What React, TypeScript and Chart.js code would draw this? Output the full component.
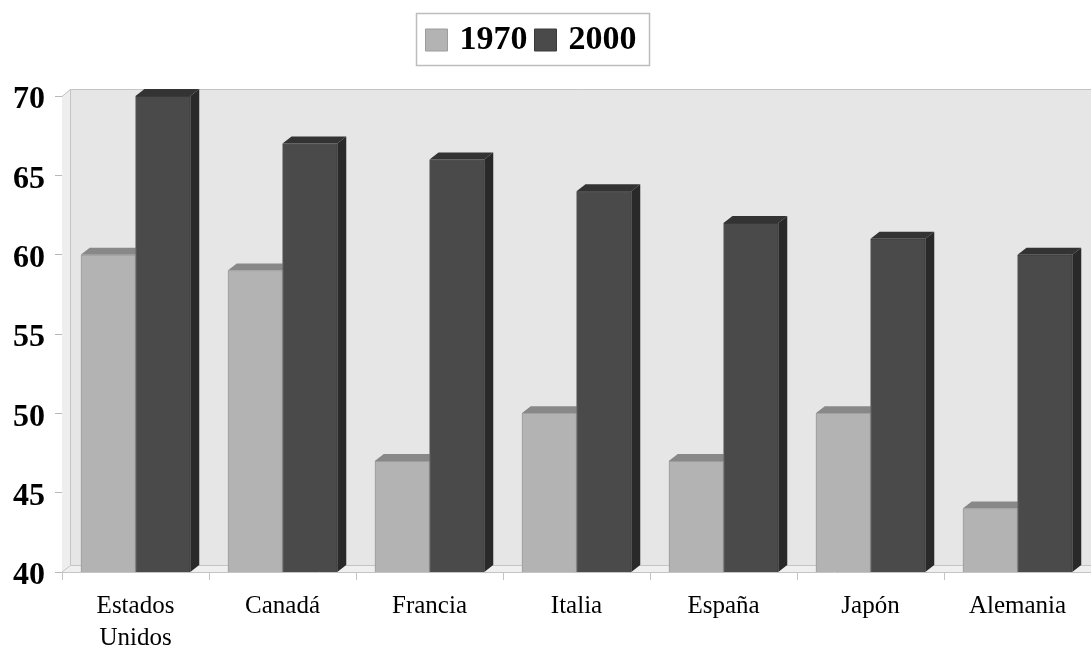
import React, { useEffect, useRef } from 'react';
import { Chart, registerables } from 'chart.js';

Chart.register(...registerables);

const categories: (string | string[])[] = [['Estados', 'Unidos'], 'Canadá', 'Francia', 'Italia', 'España', 'Japón', 'Alemania'];
const seriesNames = ['1970', '2000'];
const values1970 = [60, 59, 47, 50, 47, 50, 44];
const values2000 = [70, 67, 66, 64, 62, 61, 60];
const yMin = 40;
const yMax = 70;
const yStep = 5;

const SERIF = "'Liberation Serif', 'Times New Roman', serif";
const DX = 9;
const DY = 7;
const WALL_DX = 8;
const WALL_DY = 7;

const faces = [
  { front: '#b3b3b3', top: '#888888', side: '#8e8e8e', edge: '#9c9c9c' },
  { front: '#4a4a4a', top: '#333333', side: '#292929', edge: '#3a3a3a' },
];

const backdropPlugin = {
  id: 'backdrop3d',
  beforeDatasetsDraw(chart: any) {
    const { ctx, chartArea } = chart;
    const { left, top, right, bottom } = chartArea;
    ctx.save();
    ctx.fillStyle = '#e6e6e6';
    ctx.fillRect(left + WALL_DX, top - WALL_DY, right - left - WALL_DX, bottom - top);
    ctx.fillStyle = '#eeeeee';
    ctx.beginPath();
    ctx.moveTo(left, top);
    ctx.lineTo(left + WALL_DX, top - WALL_DY);
    ctx.lineTo(left + WALL_DX, bottom - WALL_DY);
    ctx.lineTo(left, bottom);
    ctx.closePath();
    ctx.fill();
    ctx.fillStyle = '#efefef';
    ctx.beginPath();
    ctx.moveTo(left, bottom);
    ctx.lineTo(left + WALL_DX, bottom - WALL_DY);
    ctx.lineTo(right, bottom - WALL_DY);
    ctx.lineTo(right, bottom);
    ctx.closePath();
    ctx.fill();
    ctx.strokeStyle = '#c4c4c4';
    ctx.lineWidth = 1;
    ctx.beginPath();
    ctx.moveTo(left, top + 0.5);
    ctx.lineTo(left + WALL_DX + 0.5, top - WALL_DY + 0.5);
    ctx.lineTo(right, top - WALL_DY + 0.5);
    ctx.moveTo(left + WALL_DX + 0.5, top - WALL_DY);
    ctx.lineTo(left + WALL_DX + 0.5, bottom - WALL_DY + 0.5);
    ctx.lineTo(right, bottom - WALL_DY + 0.5);
    ctx.moveTo(left, bottom);
    ctx.lineTo(left + WALL_DX + 0.5, bottom - WALL_DY + 0.5);
    ctx.stroke();
    ctx.restore();
  },
};

const bars3dPlugin = {
  id: 'bars3d',
  afterDatasetsDraw(chart: any) {
    const { ctx, chartArea } = chart;
    const metas = chart.data.datasets.map((_: any, d: number) => chart.getDatasetMeta(d));
    const n = chart.data.labels.length;
    ctx.save();
    ctx.beginPath();
    ctx.rect(chartArea.left, chartArea.top - DY - 4, chartArea.right - chartArea.left + DX + 4, chartArea.bottom - chartArea.top + DY + 4);
    ctx.clip();
    for (let i = 0; i < n; i++) {
      metas.forEach((meta: any, d: number) => {
        const el = meta.data[i];
        if (!el) return;
        const { x, y, base, width } = el.getProps(['x', 'y', 'base', 'width'], true);
        const b = Math.min(base, chartArea.bottom);
        el.draw(ctx);
        const l = x - width / 2;
        const r = x + width / 2;
        const f = faces[d];
        ctx.fillStyle = f.top;
        ctx.beginPath();
        ctx.moveTo(l, y);
        ctx.lineTo(l + DX, y - DY);
        ctx.lineTo(r + DX, y - DY);
        ctx.lineTo(r, y);
        ctx.closePath();
        ctx.fill();
        ctx.fillStyle = f.side;
        ctx.beginPath();
        ctx.moveTo(r, y);
        ctx.lineTo(r + DX, y - DY);
        ctx.lineTo(r + DX, b - DY);
        ctx.lineTo(r, b);
        ctx.closePath();
        ctx.fill();
      });
    }
    ctx.restore();
  },
};

const legendShiftPlugin = {
  id: 'legendShift',
  afterLayout(chart: any) {
    if (chart.legend) {
      chart.legend.left -= 12;
      chart.legend.right -= 12;
    }
  },
  afterDraw(chart: any) {
    const lg = chart.legend;
    if (!lg || !lg.legendHitBoxes || !lg.legendHitBoxes.length) return;
    const boxes = lg.legendHitBoxes;
    const x0 = Math.min(...boxes.map((b: any) => b.left));
    const x1 = Math.max(...boxes.map((b: any) => b.left + b.width));
    const y0 = Math.min(...boxes.map((b: any) => b.top));
    const y1 = Math.max(...boxes.map((b: any) => b.top + b.height));
    const { ctx } = chart;
    ctx.save();
    ctx.strokeStyle = '#bdbdbd';
    ctx.lineWidth = 1.5;
    ctx.strokeRect(Math.round(x0 - 15) + 0.5, Math.round(y0 - 10) + 0.5, Math.round(x1 - x0 + 27), Math.round(y1 - y0 + 18));
    ctx.restore();
  },
};

export default function App() {
  const canvasRef = useRef<HTMLCanvasElement | null>(null);

  useEffect(() => {
    document.body.style.margin = '0';
    const canvas = canvasRef.current;
    if (!canvas) return;
    const chart = new Chart(canvas, {
      type: 'bar',
      data: {
        labels: categories,
        datasets: [
          {
            label: seriesNames[0],
            data: values1970,
            backgroundColor: faces[0].front,
            borderColor: faces[0].edge,
            borderWidth: 1,
            categoryPercentage: 0.745,
            barPercentage: 1,
          },
          {
            label: seriesNames[1],
            data: values2000,
            backgroundColor: faces[1].front,
            borderColor: faces[1].edge,
            borderWidth: 1,
            categoryPercentage: 0.745,
            barPercentage: 1,
          },
        ],
      },
      options: {
        animation: false,
        responsive: true,
        maintainAspectRatio: false,
        events: [],
        layout: { padding: { top: 11, left: 0, right: 0, bottom: 0 } },
        plugins: {
          tooltip: { enabled: false },
          title: {
            display: true,
            text: '',
            weight: 500,
            font: { size: 8, lineHeight: 1 },
            padding: { top: 0, bottom: 21 },
          },
          legend: {
            display: true,
            position: 'top',
            weight: 1000,
            labels: {
              color: '#000000',
              font: { family: SERIF, size: 34, weight: 'bold' },
              usePointStyle: true,
              pointStyle: 'rect',
              boxWidth: 12,
              boxHeight: 22,
              padding: 12,
            },
          },
        },
        scales: {
          x: {
            grid: {
              display: true,
              drawOnChartArea: false,
              drawTicks: true,
              tickLength: 8,
              color: '#c4c4c4',
              offset: true,
            },
            border: { display: true, color: '#c4c4c4' },
            ticks: {
              color: '#000000',
              font: { family: SERIF, size: 25, lineHeight: 1.3 },
              padding: 10,
              maxRotation: 0,
              autoSkip: false,
            },
            afterFit(scale: any) {
              scale.height = 74;
              scale.paddingLeft = 0;
              scale.paddingRight = 0;
            },
          },
          y: {
            min: yMin,
            max: yMax,
            grid: {
              display: true,
              drawOnChartArea: false,
              drawTicks: true,
              tickLength: 7,
              color: '#b8b8b8',
            },
            border: { display: true, color: '#c4c4c4' },
            ticks: {
              stepSize: yStep,
              color: '#000000',
              font: { family: SERIF, size: 32, weight: 'bold' },
              padding: 10,
              labelOffset: 4,
            },
            afterFit(scale: any) {
              scale.width = 62;
            },
          },
        },
      },
      plugins: [backdropPlugin, bars3dPlugin, legendShiftPlugin],
    } as any);
    return () => {
      chart.destroy();
    };
  }, []);

  return (
    <div style={{ position: 'relative', width: '1091px', height: '646px' }}>
      <canvas ref={canvasRef} />
    </div>
  );
}
